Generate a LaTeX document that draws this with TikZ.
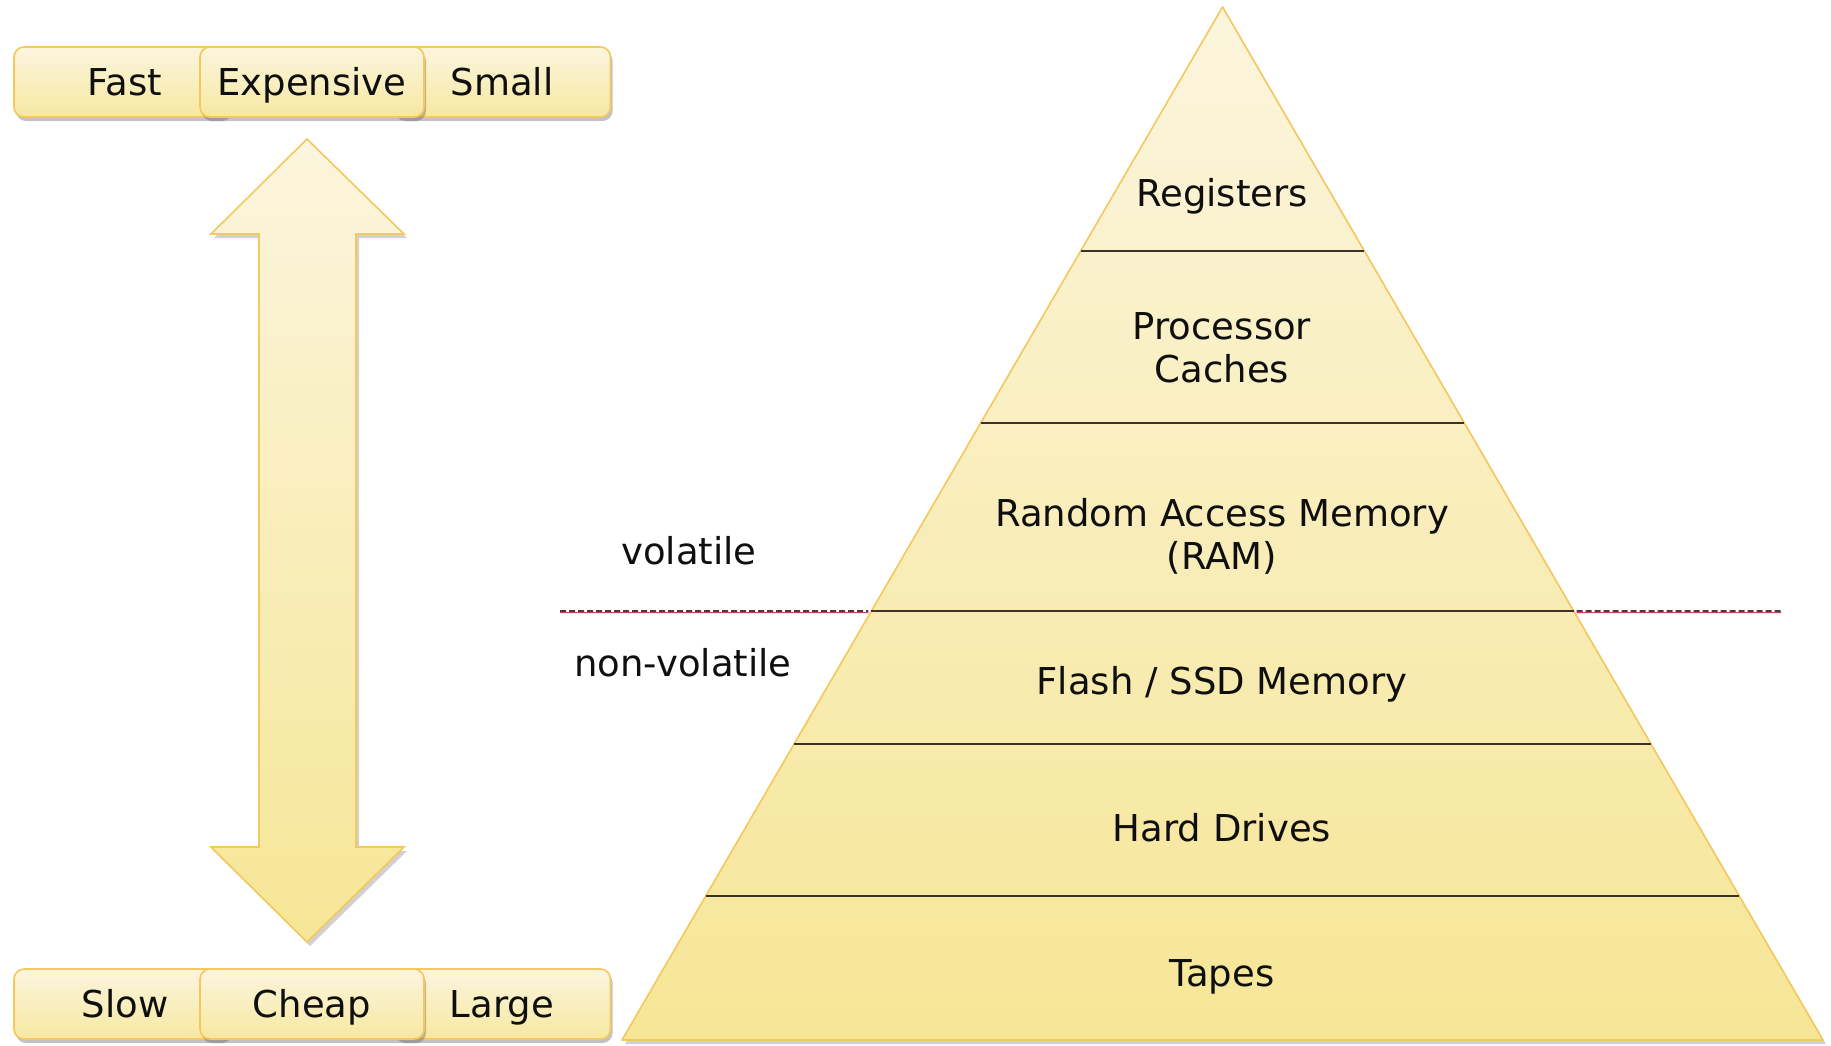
\documentclass[tikz,border=0pt]{standalone}
\usepackage{fontspec}
\setmainfont{DejaVu Sans}
\usetikzlibrary{shadows,calc}

\definecolor{cream}{RGB}{251,245,222}
\definecolor{butter}{RGB}{246,230,150}
\definecolor{rim}{RGB}{244,200,92}
\definecolor{ink}{RGB}{15,15,15}
\definecolor{rule}{RGB}{55,50,45}
\definecolor{split}{RGB}{75,45,45}
\definecolor{splitred}{RGB}{205,60,90}

\tikzset{
  lbl/.style={font=\fontsize{37pt}{43pt}\selectfont, text=ink, align=center,
              inner sep=0pt, text height=31pt, text depth=4pt},
  % two-line labels: the fixed text height/depth puts the last line on the node centre
  lbltwo/.style={lbl, anchor=center},
  tag/.style={lbl, draw=rim, line width=1.6pt, rounded corners=10pt,
              top color=cream, bottom color=butter!85!cream,
              minimum height=70pt,
              drop shadow={shadow xshift=2pt, shadow yshift=-4pt, opacity=0.4, fill=black!60}},
  softshadow/.style={drop shadow={shadow xshift=3pt, shadow yshift=-4pt, opacity=0.3, fill=black!60}},
  layerline/.style={draw=rule, line width=1.6pt},
}

\begin{document}
\begin{tikzpicture}[x=1pt,y=-1pt]
\useasboundingbox (0,0) rectangle (1831,1045);

% ---- double arrow: fast/expensive/small at the top, slow/cheap/large at the bottom
\path[softshadow, draw=rim, line width=1.6pt, top color=cream, bottom color=butter, line join=miter]
  (307,139) -- (404,234) -- (356,234) -- (356,847) -- (404,847) -- (307,942)
  -- (211,847) -- (259,847) -- (259,234) -- (211,234) -- cycle;

% ---- property tags
\node[tag, minimum width=216pt] (fast) at (122,82) {\hspace*{6pt}Fast};
\node[tag, minimum width=217pt] (small) at (502,82) {Small};
\node[tag, minimum width=224pt] (expensive) at (312,82) {Expensive};

\node[tag, minimum width=216pt] (slow) at (122,1004) {\hspace*{6pt}Slow};
\node[tag, minimum width=217pt] (large) at (502,1004) {Large};
\node[tag, minimum width=224pt] (cheap) at (312,1004) {Cheap};

% ---- memory pyramid
\coordinate (top) at (1222.5,7);
\coordinate (baseL) at (622,1040);
\coordinate (baseR) at (1823,1040);
\path[softshadow, draw=rim, line width=1.6pt, top color=cream, bottom color=butter, line join=round]
  (top) -- (baseR) -- (baseL) -- cycle;

% layer boundaries, as fractions of the way down the sides
\foreach \t/\n in {0.2362/One, 0.4027/Two, 0.5847/Three, 0.7135/Four, 0.8606/Five}{
  \coordinate (edgeL\n) at ($(top)!\t!(baseL)$);
  \coordinate (edgeR\n) at ($(top)!\t!(baseR)$);
}
\draw[layerline] (edgeLOne) -- (edgeROne);
\draw[layerline] (edgeLTwo) -- (edgeRTwo);
\draw[layerline] (edgeLFour) -- (edgeRFour);
\draw[layerline] (edgeLFive) -- (edgeRFive);
\draw[draw=split, line width=1.8pt] (edgeLThree) -- (edgeRThree);

% volatile / non-volatile divider outside the pyramid
\coordinate (dashL) at (560,611);
\coordinate (dashR) at (1781,611);
\draw[splitred, line width=1pt] ($(dashL)+(0,1.5)$) -- ($(edgeLThree)+(-3,1.5)$);
\draw[splitred, line width=1pt] ($(edgeRThree)+(3,1.5)$) -- ($(dashR)+(0,1.5)$);
\draw[black!75, line width=1.8pt, dash pattern=on 6pt off 3pt] (dashL) -- ($(edgeLThree)+(-3,0)$);
\draw[black!75, line width=1.8pt, dash pattern=on 6pt off 3pt] ($(edgeRThree)+(3,0)$) -- (dashR);

% layer labels
\node[lbl] (registers) at (1222,193) {Registers};
\node[lbltwo] (caches) at (1222,369) {Processor\\Caches};
\node[lbltwo] (ram) at (1222,556) {Random Access Memory\\(RAM)};
\node[lbl] (flash) at (1222,681) {Flash / SSD Memory};
\node[lbl] (hdd) at (1222,828) {Hard Drives};
\node[lbl] (tapes) at (1222,973) {Tapes};

\node[lbl] (volatile) at (689,551) {volatile};
\node[lbl] (nonvolatile) at (683,663) {non-volatile};
\end{tikzpicture}
\end{document}
